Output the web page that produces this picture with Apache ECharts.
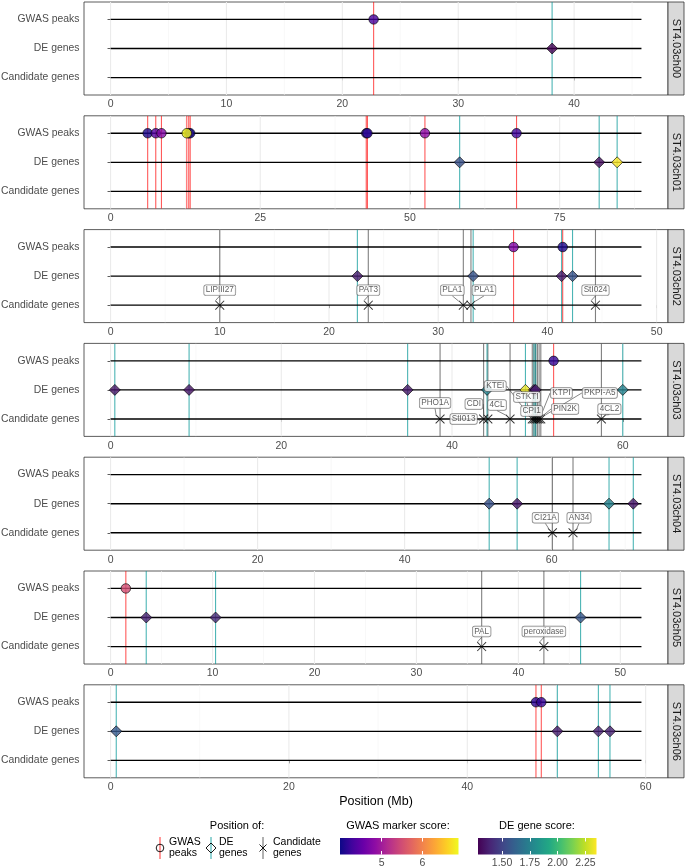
<!DOCTYPE html>
<html><head><meta charset="utf-8">
<script src="https://cdn.jsdelivr.net/npm/echarts@6/dist/echarts.min.js"></script>
<style>html,body{margin:0;padding:0;background:#fff}#chart{width:685px;height:868px}</style>
</head><body><div id="chart"></div>
<script>
// ---------------- data ----------------
const chromosomes = ['ST4.03ch00','ST4.03ch01','ST4.03ch02','ST4.03ch03','ST4.03ch04','ST4.03ch05','ST4.03ch06'];
const chromLengthsMb = [45.81, 88.66, 48.61, 62.19, 72.21, 52.07, 59.53];
const rowNames = ['Candidate genes', 'DE genes', 'GWAS peaks'];
const xTickValues = [[0,10,20,30,40],[0,25,50,75],[0,10,20,30,40,50],[0,20,40,60],[0,20,40,60],[0,10,20,30,40,50],[0,20,40,60]];

// GWAS peaks (chromosome index, position in Mb, GWAS marker score)
const gwasChrom = [0, 1,1,1,1,1,1,1,1,1,1, 2,2, 3, 5, 6,6];
const gwasPosMb = [22.7, 6.2,7.55,8.5,13.06,13.3,12.73,42.7,42.9,52.5,67.8, 36.9,41.4, 51.9, 1.5, 47.7,48.3];
const gwasScore = [4.3, 4.05,4.4,4.75,5.6,3.98,6.88,4.12,4.15,4.8,4.25, 4.7,4.05, 4.18, 5.5, 4.15,4.2];

// DE genes (chromosome index, position in Mb, DE gene score)
const deChrom = [0, 1,1,1, 2,2,2,2, 3,3,3,3,3,3,3,3, 4,4,4,4, 5,5,5, 6,6,6,6];
const dePosMb = [38.1, 58.3,81.6,84.6, 22.6,33.2,41.3,42.3, 0.5,9.2,34.8,44.1,48.6,49.6,49.8,60.0, 51.5,55.3,67.8,71.1, 3.5,10.3,46.1, 0.64,50.1,54.7,56.0];
const deScore = [1.284, 1.55,1.32,2.35, 1.36,1.55,1.36,1.55, 1.34,1.34,1.35,1.75,2.32,1.34,1.36,1.75, 1.55,1.34,1.75,1.34, 1.38,1.40,1.57, 1.58,1.36,1.38,1.38];

// Candidate genes
const candChrom = [2,2,2,2,2, 3,3,3,3,3,3,3,3,3,3,3, 4,4, 5,5];
const candPosMb = [10.0,23.6,32.3,33.0,44.4, 38.6,43.7,44.2,46.8,49.4,49.6,49.8,50.0,50.2,50.4,57.5, 60.1,62.9, 36.4,42.5];
const candName = ['LIPIII27','PAT3','PLA1','PLA1','StI024','PHO1A','StI013','CDI','4CL','KTEI','STKTI','CPI1','KTPI','PIN2K','PKPI-A5','4CL2','CI21A','AN34','PAL','peroxidase'];

// colour-bar breaks
const gwasBreaks = [5, 6];
const deBreaks = [1.5, 1.75, 2.0, 2.25];

// ---------------- layout / style (not data) ----------------
const labelDx = [0,0,-11,13,0, -5,-20,-14,-13,-37,-7,-4,24,26,59,8, -7,6, 0,0];
const labelDy = [-15,-15,-15,-15,-15, -16,0,-15,-14,-33,-22,-8,-26,-10,-26,-10, -15,-15, -15,-15];
const FONT = '"Liberation Sans", Arial, Helvetica, sans-serif';
const plasma = ['#0d0887','#41049d','#6a00a8','#8f0da4','#b12a90','#cc4778','#e16462','#f2844b','#fca636','#fcce25','#f0f921'];
const viridis = ['#440154','#482475','#414487','#355f8d','#2a788e','#21918c','#22a884','#44bf70','#7ad151','#bddf26','#fde725'];
const vlineColors = ['rgba(255,0,0,0.65)','rgba(0,150,150,0.7)','rgba(60,60,60,0.65)'];
const PANEL_LEFT = 84, PANEL_W = 584, PANEL_H = 93, PANEL_TOP0 = 2, PANEL_PITCH = 113.8;

const gMin = Math.min(...gwasScore), gMax = Math.max(...gwasScore);
const dMin = Math.min(...deScore), dMax = Math.max(...deScore);

const grids = [], xAxes = [], yAxes = [], series = [], graphics = [];
const gwasSeriesIdx = [], deSeriesIdx = [];
const Xpath = 'path://M0,0.7L0.7,0L5,4.3L9.3,0L10,0.7L5.7,5L10,9.3L9.3,10L5,5.7L0.7,10L0,9.3L4.3,5Z';

chromosomes.forEach((chr, i) => {
  const L = chromLengthsMb[i];
  const top = PANEL_TOP0 + i * PANEL_PITCH;
  const lo = -0.05 * L, hi = 1.05 * L;
  grids.push({left: PANEL_LEFT, width: PANEL_W, top: top, height: PANEL_H, show: true,
    containLabel: false, outerBoundsMode: 'none',
    backgroundColor: '#fff', borderColor: '#333', borderWidth: 0.8});
  const xa = {gridIndex: i, type: 'value', min: lo, max: hi,
    axisLine: {show: false}, splitLine: {show: false},
    axisTick: {show: true, customValues: xTickValues[i], length: 3, lineStyle: {color: '#333', width: 0.8}},
    axisLabel: {customValues: xTickValues[i], color: '#4D4D4D', fontSize: 10.5, margin: 4, fontFamily: FONT}};
  if (i === chromosomes.length - 1) {
    Object.assign(xa, {name: 'Position (Mb)', nameLocation: 'middle', nameGap: 17,
      nameTextStyle: {color: '#000', fontSize: 12.5, fontFamily: FONT}});
  }
  xAxes.push(xa);
  yAxes.push({gridIndex: i, type: 'value', min: -0.6, max: 2.6,
    axisLine: {show: false}, splitLine: {show: false},
    axisTick: {show: true, customValues: [0,1,2], length: 3, lineStyle: {color: '#333', width: 0.8}},
    axisLabel: {customValues: [0,1,2], formatter: v => rowNames[Math.round(v)], color: '#4D4D4D', fontSize: 10.4, margin: 4.5, fontFamily: FONT}});

  // background grid lines (major, minor, horizontal)
  const maj = xTickValues[i];
  const step = maj[1] - maj[0];
  const gridData = maj.map(v => [v, 0]);
  for (let k = 0; k < maj.length - 1; k++) gridData.push([(maj[k] + maj[k+1]) / 2, 1]);
  if (maj[maj.length-1] + step/2 < hi) gridData.push([maj[maj.length-1] + step/2, 1]);
  if (maj[0] - step/2 > lo) gridData.push([maj[0] - step/2, 1]);
  [0,1,2].forEach(r => gridData.push([0, 2, r]));
  series.push({type: 'custom', xAxisIndex: i, yAxisIndex: i, z: 1, silent: true, clip: true,
    data: gridData,
    renderItem: (params, api) => {
      const cs = params.coordSys;
      const kind = api.value(1);
      if (kind === 2) {
        const y = api.coord([0, api.value(2)])[1];
        return {type: 'line', shape: {x1: cs.x, y1: y, x2: cs.x + cs.width, y2: y}, style: {stroke: '#EBEBEB', lineWidth: 1.1}};
      }
      const x = api.coord([api.value(0), 0])[0];
      return {type: 'line', shape: {x1: x, y1: cs.y, x2: x, y2: cs.y + cs.height},
        style: {stroke: kind === 0 ? '#EBEBEB' : '#F4F4F4', lineWidth: kind === 0 ? 1.1 : 0.6}};
    }});

  // vertical position lines: candidate (gray), DE (teal), GWAS (red)
  const vData = [];
  candPosMb.forEach((p, k) => { if (candChrom[k] === i) vData.push([p, 2]); });
  dePosMb.forEach((p, k) => { if (deChrom[k] === i) vData.push([p, 1]); });
  gwasPosMb.forEach((p, k) => { if (gwasChrom[k] === i) vData.push([p, 0]); });
  series.push({type: 'custom', xAxisIndex: i, yAxisIndex: i, z: 2, silent: true, clip: true,
    data: vData,
    renderItem: (params, api) => {
      const cs = params.coordSys;
      const x = api.coord([api.value(0), 0])[0];
      return {type: 'line', shape: {x1: x, y1: cs.y, x2: x, y2: cs.y + cs.height},
        style: {stroke: vlineColors[api.value(1)], lineWidth: 1.1}};
    }});

  // horizontal chromosome lines
  [0,1,2].forEach(r => {
    series.push({type: 'line', xAxisIndex: i, yAxisIndex: i, z: 3, silent: true, symbol: 'none',
      data: [[0, r], [L, r]], lineStyle: {color: '#000', width: 1.35}});
  });

  // candidate genes
  const cIdx = [];
  const cData = [];
  candPosMb.forEach((p, k) => { if (candChrom[k] === i) { cIdx.push(k); cData.push({value: [p, 0], name: candName[k]}); } });
  series.push({type: 'scatter', xAxisIndex: i, yAxisIndex: i, z: 4, symbol: Xpath, symbolSize: 9.5,
    itemStyle: {color: '#000'}, data: cData,
    label: {show: true, position: 'inside', formatter: '{b}', fontSize: 8.2, lineHeight: 9, color: '#333',
      fontFamily: FONT, backgroundColor: '#fff', borderColor: '#666', borderWidth: 0.7, borderRadius: 2,
      padding: [1, 1.5, 0, 1.5]},
    labelLine: {show: true, lineStyle: {color: '#333', width: 0.6}},
    labelLayout: p => { const g = cIdx[p.dataIndex]; return {dx: labelDx[g], dy: labelDy[g], hideOverlap: false}; }
  });

  // DE genes
  const dData = [];
  dePosMb.forEach((p, k) => { if (deChrom[k] === i) dData.push([p, 1, deScore[k]]); });
  deSeriesIdx.push(series.length);
  series.push({type: 'scatter', xAxisIndex: i, yAxisIndex: i, z: 4, symbol: 'diamond', symbolSize: 11,
    itemStyle: {borderColor: '#000', borderWidth: 0.8}, data: dData});

  // GWAS peaks
  const gData = [];
  gwasPosMb.forEach((p, k) => { if (gwasChrom[k] === i) gData.push([p, 2, gwasScore[k]]); });
  gwasSeriesIdx.push(series.length);
  series.push({type: 'scatter', xAxisIndex: i, yAxisIndex: i, z: 4, symbol: 'circle', symbolSize: 9.5,
    itemStyle: {borderColor: '#000', borderWidth: 0.8}, data: gData});

  // facet strip
  graphics.push({type: 'rect', shape: {x: 668, y: top, width: 16, height: PANEL_H},
    style: {fill: '#D9D9D9', stroke: '#333', lineWidth: 0.8}, z: 10});
  graphics.push({type: 'text', x: 676.5, y: top + PANEL_H / 2, rotation: -Math.PI / 2, z: 11,
    style: {text: chr, fill: '#1A1A1A', fontSize: 11, fontFamily: FONT, align: 'center', verticalAlign: 'middle'}});
});

// ---------------- colour bars ----------------
function colorBar(gi, left, mn, mx, stops, breaks, fmt) {
  grids.push({left: left, top: 838, width: 118.5, height: 16.5, show: false, containLabel: false, outerBoundsMode: 'none'});
  const tickCommon = {show: true, inside: true, customValues: breaks, length: 3.5, lineStyle: {color: '#fff', width: 1}};
  xAxes.push({gridIndex: gi, type: 'value', min: mn, max: mx, position: 'bottom', z: 6,
    axisLine: {show: false}, splitLine: {show: false}, axisTick: tickCommon,
    axisLabel: {customValues: breaks, formatter: fmt, color: '#4D4D4D', fontSize: 10.5, margin: 3, fontFamily: FONT}});
  xAxes.push({gridIndex: gi, type: 'value', min: mn, max: mx, position: 'top', z: 6,
    axisLine: {show: false}, splitLine: {show: false}, axisTick: tickCommon, axisLabel: {show: false}});
  yAxes.push({gridIndex: gi, type: 'value', min: 0, max: 1, show: false});
  const xi = xAxes.length - 2, yi = yAxes.length - 1;
  series.push({type: 'custom', xAxisIndex: xi, yAxisIndex: yi, z: 2, silent: true, data: [[mn, 0]],
    renderItem: (params, api) => {
      const cs = params.coordSys;
      return {type: 'rect', shape: {x: cs.x, y: cs.y, width: cs.width, height: cs.height},
        style: {fill: {type: 'linear', x: 0, y: 0, x2: 1, y2: 0, global: false,
          colorStops: stops.map((c, k) => ({offset: k / (stops.length - 1), color: c}))}}};
    }});
}
colorBar(7, 340, gMin, gMax, plasma, gwasBreaks, v => String(v));
colorBar(8, 478, dMin, dMax, viridis, deBreaks, v => v.toFixed(2));

// ---------------- legend graphics ----------------
const txt = (x, y, s, size, align, extra) => Object.assign({type: 'text', x: x, y: y, z: 11,
  style: {text: s, fill: '#000', fontSize: size, fontFamily: FONT, align: align, verticalAlign: 'middle', lineHeight: 11}}, extra || {});
graphics.push(txt(237, 826, 'Position of:', 11, 'center'));
graphics.push(txt(398, 826, 'GWAS marker score:', 11, 'center'));
graphics.push(txt(537, 826, 'DE gene score:', 11, 'center'));
const keyY = 848;
// key 1
graphics.push({type: 'line', z: 11, shape: {x1: 160, y1: 837, x2: 160, y2: 859}, style: {stroke: 'rgba(255,0,0,0.8)', lineWidth: 1}});
graphics.push({type: 'circle', z: 12, shape: {cx: 160, cy: keyY, r: 3.8}, style: {fill: 'none', stroke: '#000', lineWidth: 0.9}});
graphics.push(txt(169, keyY, 'GWAS\npeaks', 10.5, 'left'));
// key 2
graphics.push({type: 'line', z: 11, shape: {x1: 211, y1: 837, x2: 211, y2: 859}, style: {stroke: 'rgba(0,150,150,0.85)', lineWidth: 1}});
graphics.push({type: 'polygon', z: 12, shape: {points: [[211, keyY-5], [216, keyY], [211, keyY+5], [206, keyY]]}, style: {fill: 'none', stroke: '#000', lineWidth: 0.9}});
graphics.push(txt(219, keyY, 'DE\ngenes', 10.5, 'left'));
// key 3
graphics.push({type: 'line', z: 11, shape: {x1: 263, y1: 837, x2: 263, y2: 859}, style: {stroke: 'rgba(60,60,60,0.8)', lineWidth: 1}});
graphics.push({type: 'line', z: 12, shape: {x1: 259.5, y1: keyY-3.5, x2: 266.5, y2: keyY+3.5}, style: {stroke: '#000', lineWidth: 0.9}});
graphics.push({type: 'line', z: 12, shape: {x1: 259.5, y1: keyY+3.5, x2: 266.5, y2: keyY-3.5}, style: {stroke: '#000', lineWidth: 0.9}});
graphics.push(txt(273, keyY, 'Candidate\ngenes', 10.5, 'left'));

const chart = echarts.init(document.getElementById('chart'), null, {renderer: 'canvas'});
chart.setOption({
  animation: false,
  backgroundColor: '#fff',
  textStyle: {fontFamily: FONT},
  grid: grids, xAxis: xAxes, yAxis: yAxes, series: series,
  visualMap: [
    {type: 'continuous', show: false, seriesIndex: gwasSeriesIdx, dimension: 2, min: gMin, max: gMax, inRange: {color: plasma}},
    {type: 'continuous', show: false, seriesIndex: deSeriesIdx, dimension: 2, min: dMin, max: dMax, inRange: {color: viridis}}
  ],
  graphic: graphics
});
</script></body></html>
